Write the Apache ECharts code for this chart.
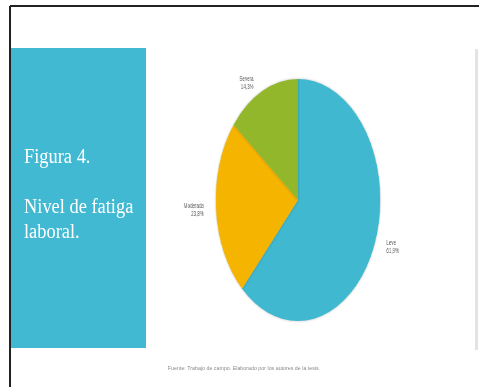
<!DOCTYPE html>
<html>
<head>
<meta charset="utf-8">
<script src="https://cdn.jsdelivr.net/npm/echarts@6/dist/echarts.min.js"></script>
<style>
  html, body { margin: 0; padding: 0; background: #fff; }
  #stage { position: relative; width: 479px; height: 387px; overflow: hidden; }
  #frame, #pie { position: absolute; left: 0; top: 0; width: 479px; height: 387px; }
  /* the slide's pie is stretched into an upright ellipse */
  #pie { transform-origin: 298px 200px; transform: scaleX(0.68); }
</style>
</head>
<body>
<div id="stage">
  <div id="frame"></div>
  <div id="pie"></div>
</div>
<script>
// Nivel de fatiga laboral (porcentaje de trabajadores)
const categories = ['Leve', 'Moderada', 'Severa'];
const percentages = [61.9, 23.8, 14.3];
const sliceColors = ['#40b8d0', '#f5b400', '#93b72a'];

const titleLines = ['Figura 4.', '', 'Nivel de fatiga', 'laboral.'];
const sourceNote = 'Fuente: Trabajo de campo. Elaborado por los autores de la tesis.';

const fmt = v => v.toFixed(1).replace('.', ',') + '%';

// Slide frame, side panel and caption
const frame = echarts.init(document.getElementById('frame'), null, { renderer: 'canvas' });
frame.setOption({
  animation: false,
  graphic: [
    { type: 'line', shape: { x1: 10, y1: 6, x2: 479, y2: 6 }, style: { stroke: '#222', lineWidth: 2 } },
    { type: 'line', shape: { x1: 10, y1: 6, x2: 10, y2: 387 }, style: { stroke: '#222', lineWidth: 2 } },
    { type: 'rect', shape: { x: 11, y: 48, width: 135, height: 300 }, style: { fill: '#42b9d2' } },
    { type: 'rect', shape: { x: 475, y: 49, width: 3, height: 301 }, style: { fill: '#e3e3e3' } },
    {
      type: 'text', left: 24, top: 145, scaleX: 0.92,
      style: {
        text: titleLines.join('\n'),
        font: '20px "Liberation Serif", "DejaVu Serif", serif',
        fill: '#ffffff', lineHeight: 25
      }
    },
    {
      type: 'text', x: 244, y: 369,
      style: {
        text: sourceNote, font: '5.3px "Liberation Sans", Arial, sans-serif',
        fill: '#8a8a8a', align: 'center', verticalAlign: 'middle'
      }
    }
  ]
});

// Pie chart of the three fatigue levels
const pie = echarts.init(document.getElementById('pie'), null, { renderer: 'canvas' });
pie.setOption({
  animation: false,
  series: [{
    type: 'pie',
    center: [298, 200],
    radius: [0, 121],
    startAngle: 90,
    clockwise: true,
    avoidLabelOverlap: false,
    data: categories.map((name, i) => ({
      name, value: percentages[i], itemStyle: { color: sliceColors[i] }
    })),
    itemStyle: { borderWidth: 0, shadowBlur: 3, shadowColor: 'rgba(0,0,0,0.25)' },
    label: {
      show: true,
      position: 'outside',
      formatter: p => p.name + '\n' + fmt(p.value),
      fontFamily: '"Liberation Sans", Arial, sans-serif',
      fontSize: 6.5,
      lineHeight: 8,
      color: '#555',
      align: 'center'
    },
    labelLine: { show: false, length: 9, length2: 4 }
  }]
});
</script>
</body>
</html>
